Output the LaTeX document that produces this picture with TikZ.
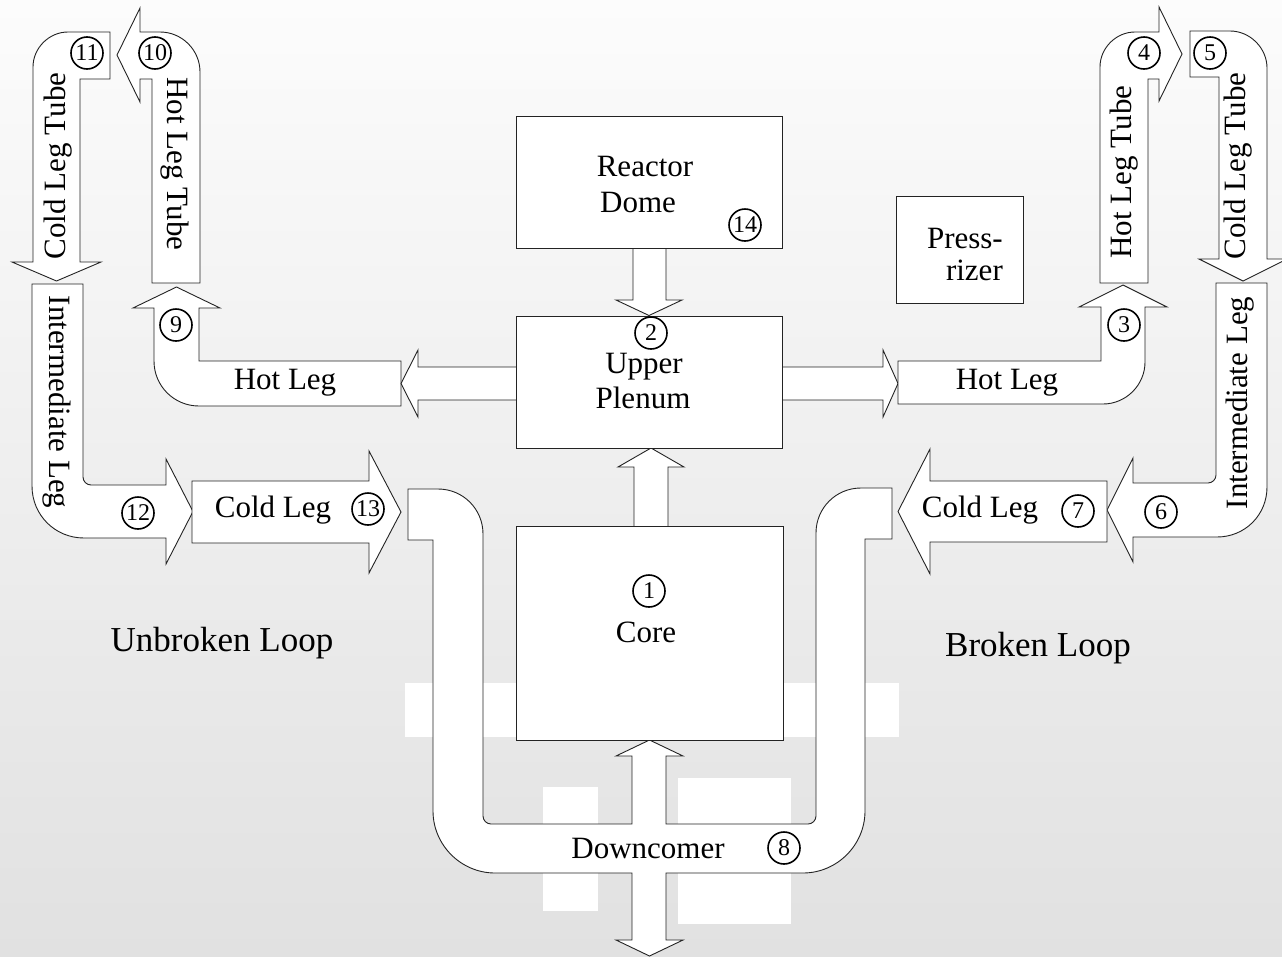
\documentclass[tikz,border=0pt]{standalone}
\usepackage{fontspec}
\setmainfont{Liberation Serif}
\definecolor{bgtop}{RGB}{252,252,252}
\definecolor{bgbottom}{RGB}{225,225,225}
\definecolor{edge}{RGB}{35,35,35}
\begin{document}
\begin{tikzpicture}[x=1pt,y=-1pt,
  pipe/.style={draw=edge, fill=white, line width=0.9pt},
  vessel/.style={draw=edge, fill=white, line width=0.9pt, inner sep=0pt, outer sep=0pt},
  lbl/.style={font=\fontsize{31}{33}\selectfont, inner sep=0pt},
  loopname/.style={font=\fontsize{35}{38}\selectfont, inner sep=0pt},
  station/.style={circle, draw=black, line width=1.6pt, minimum size=32pt, inner sep=0pt, font=\fontsize{24}{24}\selectfont}]
  \useasboundingbox (0,0) rectangle (1282,956);
  \shade[top color=bgtop, bottom color=bgbottom] (0,0) rectangle (1282,956);
  % white patches behind the downcomer
  \fill[white] (405,683) rectangle (899,737);
  \fill[white] (543,787) rectangle (598,911);
  \fill[white] (678,778) rectangle (791,924);

  % unbroken loop
  \draw[pipe] (110,32) -- (68,32) .. controls (49,32) and (33,48) .. (33,67) -- (33,262)
    -- (12,262) -- (56.5,281) -- (101,262) -- (80,262) -- (80,79) -- (110,79) -- cycle;
  \draw[pipe] (152,283) -- (152,79) -- (140,79) -- (140,102) -- (117,55) -- (140,8) -- (140,32)
    -- (160,32) .. controls (182,32) and (200,50) .. (200,72) -- (200,283) -- cycle;
  \draw[pipe] (32,284) -- (83,284) -- (83,477) .. controls (83,481.4) and (86.6,485) .. (91,485)
    -- (166,485) -- (166,459) -- (193,511.5) -- (166,564) -- (166,538)
    -- (84,538) .. controls (55,538) and (32,515) .. (32,486) -- cycle;
  \draw[pipe] (401,361) -- (199,361) -- (199,308) -- (220,308) -- (176.5,287) -- (133,308) -- (154,308)
    -- (154,361) .. controls (154,386) and (174,406) .. (199,406) -- (401,406) -- cycle;
  \draw[pipe] (192,481) -- (369,481) -- (369,451) -- (401,512) -- (369,573) -- (369,543) -- (192,543) -- cycle;
  \draw[pipe] (516,367) -- (418,367) -- (418,350) -- (401,383.5) -- (418,417) -- (418,400) -- (516,400);

  % broken loop
  \draw[pipe] (782,367) -- (883,367) -- (883,350) -- (898,383.5) -- (883,417) -- (883,400) -- (782,400);
  \draw[pipe] (898,361) -- (1101,361) -- (1101,307) -- (1079,307) -- (1123,285) -- (1167,307) -- (1145,307)
    -- (1145,362) .. controls (1145,385) and (1126,404) .. (1103,404) -- (898,404) -- cycle;
  \draw[pipe] (1100,283) -- (1100,67) .. controls (1100,48) and (1116,32) .. (1135,32) -- (1159,32)
    -- (1159,7) -- (1182,54) -- (1159,101) -- (1159,79) -- (1148,79) -- (1148,283) -- cycle;
  \draw[pipe] (1190,31) -- (1230,31) .. controls (1250,31) and (1267,48) .. (1267,68) -- (1267,259)
    -- (1287,259) -- (1243,281) -- (1199,259) -- (1219,259) -- (1219,77) -- (1190,77) -- cycle;
  \draw[pipe] (1216,283) -- (1267,283) -- (1267,487) .. controls (1267,515) and (1245,537) .. (1217,537)
    -- (1133,537) -- (1133,562) -- (1107,510) -- (1133,458) -- (1133,483)
    -- (1208,483) .. controls (1212.4,483) and (1216,479.4) .. (1216,475) -- cycle;
  \draw[pipe] (1107,481) -- (930,481) -- (930,449) -- (898,511.5) -- (930,574) -- (930,542) -- (1107,542) -- cycle;

  % downcomer with the flow to and from the core
  \draw[pipe] (408,489) -- (438,489) .. controls (463,489) and (483,509) .. (483,534)
    -- (483,816) .. controls (483,820.4) and (486.6,824) .. (491,824)
    -- (632,824) -- (632,756) -- (616,756) -- (649.5,740) -- (683,756) -- (666,756) -- (666,824)
    -- (808,824) .. controls (812.4,824) and (816,820.4) .. (816,816)
    -- (816,533) .. controls (816,508) and (836,488) .. (861,488) -- (892,488) -- (892,539) -- (865,539)
    -- (865,811) .. controls (865,845) and (837,873) .. (803,873)
    -- (666,873) -- (666,940) -- (683,940) -- (649.5,956) -- (616,940) -- (632,940) -- (632,873)
    -- (495,873) .. controls (461,873) and (433,845) .. (433,811) -- (433,540) -- (408,540) -- cycle;
  \draw[pipe] (633,248) -- (633,300) -- (616,300) -- (649,315.5) -- (682,300) -- (666,300) -- (666,248);
  \draw[pipe] (634,526) -- (634,467) -- (618,467) -- (651,448) -- (684,467) -- (668,467) -- (668,526);

  % vessels
  \node[vessel, minimum width=266pt, minimum height=132pt] (dome) at (649,182) {};
  \node[vessel, minimum width=266pt, minimum height=132pt] (plenum) at (649,382) {};
  \node[vessel, minimum width=267pt, minimum height=214pt] (core) at (649.5,633) {};
  \node[vessel, minimum width=127pt, minimum height=107pt] (przr) at (959.5,249.5) {};

  % labels
  \node[lbl] (reactor) at (645,166) {Reactor};
  \node[lbl] (domeTxt) at (638,202) {Dome};
  \node[lbl] (upper) at (644,367) {Upper};
  \node[lbl] (plenumTxt) at (643,398) {Plenum};
  \node[lbl] (coreTxt) at (646,632) {Core};
  \node[lbl, anchor=east] (press) at (1003,238) {Press-};
  \node[lbl, anchor=east] (rizer) at (1003,270) {rizer};
  \node[lbl] (dc) at (648,848) {Downcomer};
  \node[lbl] (hlA) at (285,383) {Hot Leg};
  \node[lbl] (hlB) at (1007,383) {Hot Leg};
  \node[lbl] (clA) at (273,510) {Cold Leg};
  \node[lbl] (clB) at (980,510) {Cold Leg};
  \node[lbl, rotate=90] (cltA) at (58,166) {Cold Leg Tube};
  \node[lbl, rotate=-90] (hltA) at (175,164) {Hot Leg Tube};
  \node[lbl, rotate=-90] (ilA) at (57,402) {Intermediate Leg};
  \node[lbl, rotate=90] (hltB) at (1124,172) {Hot Leg Tube};
  \node[lbl, rotate=90] (cltB) at (1238,166) {Cold Leg Tube};
  \node[lbl, rotate=90] (ilB) at (1240,403) {Intermediate Leg};
  \node[loopname] (unbroken) at (222,643) {Unbroken Loop};
  \node[loopname] (broken) at (1038,648) {Broken Loop};

  % station numbers
  \foreach \n/\x/\y in {1/649/591, 2/651/333, 3/1124/325, 4/1144/53, 5/1210/53, 6/1161/512,
      7/1078/511, 8/784/848, 9/176/325, 10/155/53, 11/87/53, 12/138/513, 13/368/509, 14/745/225}
    \node[station] (s\n) at (\x,\y) {\n};
\end{tikzpicture}
\end{document}
